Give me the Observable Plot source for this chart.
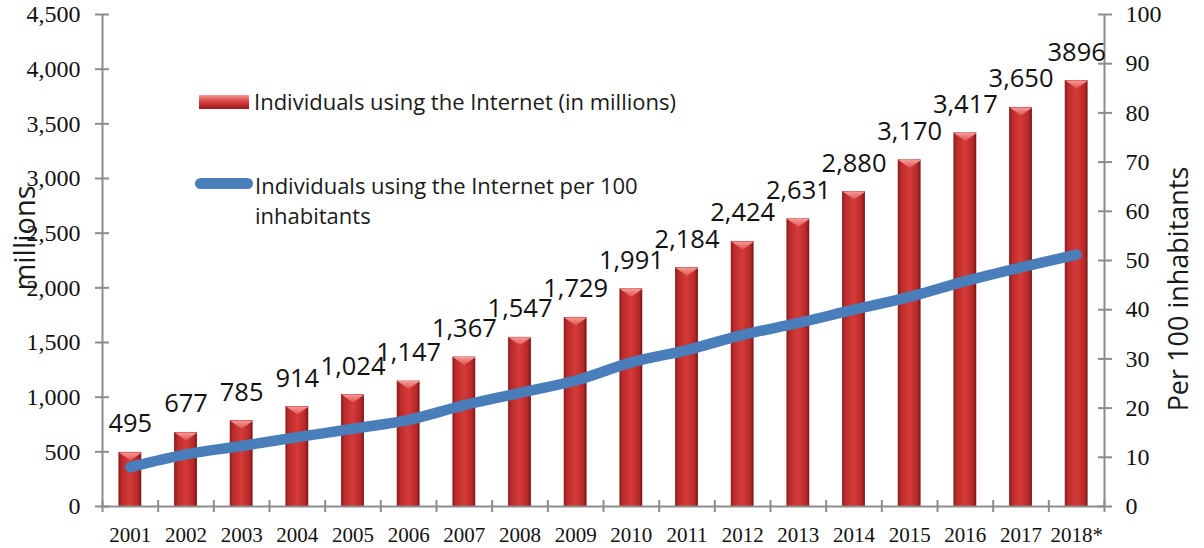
<!DOCTYPE html>
<html><head><meta charset="utf-8">
<script src="https://cdn.jsdelivr.net/npm/d3@7"></script>
<script src="https://cdn.jsdelivr.net/npm/@observablehq/plot@0.6"></script>
<style>
html,body{margin:0;padding:0;background:#fff;}
#wrap{position:relative;width:1204px;height:548px;overflow:hidden;}
.lab{position:absolute;font-family:"Open Sans",sans-serif;color:#1a1a1a;white-space:nowrap;}
</style></head><body><div id="wrap"></div>
<script>
const years = ["2001","2002","2003","2004","2005","2006","2007","2008","2009","2010","2011","2012","2013","2014","2015","2016","2017","2018*"];
const millions = [495,677,785,914,1024,1147,1367,1547,1729,1991,2184,2424,2631,2880,3170,3417,3650,3896];
const valueLabels = ["495","677","785","914","1,024","1,147","1,367","1,547","1,729","1,991","2,184","2,424","2,631","2,880","3,170","3,417","3,650","3896"];
const per100 = [8.0,10.6,12.3,14.1,15.8,17.6,20.6,23.1,25.6,29.3,31.8,34.9,37.3,40.0,42.6,45.8,48.6,51.2];
const leftTicks = [0,500,1000,1500,2000,2500,3000,3500,4000,4500];
const rightTicks = [0,10,20,30,40,50,60,70,80,90,100];
const legendBars = "Individuals using the Internet (in millions)";
const legendLine = ["Individuals using the Internet per 100","inhabitants"];
const leftTitle = "millions";
const rightTitle = "Per 100 inhabitants";

const ratio = 4500 / 100; // right axis (per 100) mapped onto left axis (millions)
const idx = d3.range(years.length);
const gray = "#8c8c8c";
const serif = "Liberation Serif";

const capSymbol = {
  draw(ctx) { const w = 11.5, h = 8; ctx.moveTo(-w, 0); ctx.lineTo(w, 0); ctx.lineTo(0, h); ctx.closePath(); }
};

const chart = Plot.plot({
  width: 1204, height: 548,
  marginLeft: 102, marginRight: 100, marginTop: 14, marginBottom: 42,
  x: {type: "linear", domain: [0, years.length]},
  y: {domain: [0, 4500]},
  style: {fontFamily: serif, fontSize: "22px", color: "#111", background: "transparent", overflow: "visible"},
  marks: [
    Plot.rect(idx, {x1: i => i + 0.295, x2: i => i + 0.705, y1: 0, y2: i => millions[i], fill: "url(#barGrad)"}),
    Plot.dot(idx, {x: i => i + 0.5, y: i => millions[i], symbol: capSymbol, r: 10, fill: "url(#capGrad)", stroke: "none"}),
    Plot.ruleY([0], {stroke: gray, strokeWidth: 2}),
    Plot.ruleX([0, years.length], {stroke: gray, strokeWidth: 2}),
    Plot.axisY(leftTicks, {anchor: "left", tickFormat: d3.format(","), tickSize: 14, dx: 7, tickPadding: 15, stroke: gray, strokeWidth: 2, fill: "#111", fontSize: 24, fontFamily: serif, label: null}),
    Plot.axisY(rightTicks.map(v => v * ratio), {anchor: "right", tickFormat: v => String(Math.round(v / ratio)), tickSize: 14, dx: -7, tickPadding: 14, stroke: gray, strokeWidth: 2, fill: "#111", fontSize: 24, fontFamily: serif, label: null}),
    Plot.axisX(d3.range(years.length + 1), {anchor: "bottom", tickSize: 12, dy: -6, tickFormat: () => "", stroke: gray, strokeWidth: 2, label: null}),
    Plot.axisX(idx.map(i => i + 0.5), {anchor: "bottom", tickSize: 0, tickPadding: 21, tickFormat: v => years[Math.round(v - 0.5)], fill: "#111", fontSize: 21, fontFamily: serif, label: null}),
    Plot.line(idx, {x: i => i + 0.5, y: i => per100[i] * ratio, stroke: "#4A7EBB", strokeWidth: 10.5, curve: "catmull-rom", strokeLinecap: "round", strokeLinejoin: "round"}),
    Plot.text(idx, {x: i => i + 0.5, y: i => millions[i], text: i => valueLabels[i], dy: -20, lineAnchor: "bottom", fontSize: 25.5, fontFamily: "Open Sans", fill: "#111"})
  ]
});

chart.insertAdjacentHTML("afterbegin", `<defs>
<linearGradient id="barGrad" x1="0" x2="1" y1="0" y2="0">
<stop offset="0" stop-color="#8a1a1a"/><stop offset="0.14" stop-color="#b92b2b"/><stop offset="0.5" stop-color="#d53b38"/><stop offset="0.86" stop-color="#b62929"/><stop offset="1" stop-color="#761313"/>
</linearGradient>
<linearGradient id="capGrad" x1="0" x2="0" y1="0" y2="1">
<stop offset="0" stop-color="#f49a98"/><stop offset="1" stop-color="#e0524f"/>
</linearGradient></defs>`);

const wrap = document.getElementById("wrap");
wrap.appendChild(chart);

function addDiv(html, css) {
  const d = document.createElement("div");
  d.className = "lab";
  d.innerHTML = html;
  Object.assign(d.style, css);
  wrap.appendChild(d);
  return d;
}
// legend
addDiv("", {left: "199px", top: "95px", width: "50px", height: "14px", background: "linear-gradient(to bottom,#f39a98 0%,#e05652 35%,#c83030 65%,#8e1c1c 100%)"});
addDiv(legendBars, {left: "254px", top: "86px", fontSize: "22px", lineHeight: "30px"});
addDiv("", {left: "195px", top: "178px", width: "58px", height: "11px", borderRadius: "6px", background: "#4A7EBB"});
addDiv(legendLine.join("<br>"), {left: "255px", top: "170px", fontSize: "22px", lineHeight: "30px"});
// axis titles
addDiv(leftTitle, {left: "23px", top: "238px", fontSize: "29px", transform: "translate(-50%,-50%) rotate(-90deg)"});
addDiv(rightTitle, {left: "1177px", top: "289px", fontSize: "27px", transform: "translate(-50%,-50%) rotate(-90deg)"});
</script></body></html>
